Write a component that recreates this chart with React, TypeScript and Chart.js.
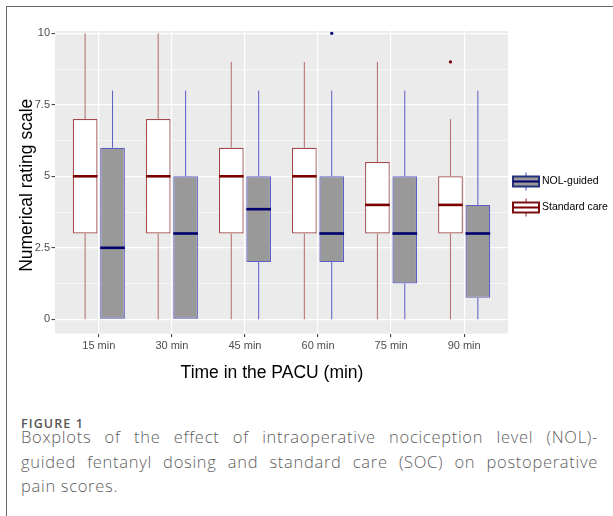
import React, { useEffect, useRef } from "react";
import { Chart, registerables } from "chart.js";

Chart.register(...registerables);

const timeLabels = ["15 min", "30 min", "45 min", "60 min", "75 min", "90 min"];
const xTickValues = [1, 2, 3, 4, 5, 6];
const yTickValues = [0, 1.25, 2.5, 3.75, 5, 6.25, 7.5, 8.75, 10];
const yMajorLabels = ["0", "2.5", "5", "7.5", "10"];

// Standard care (SOC)
const socMin = [0, 0, 0, 0, 0, 0];
const socQ1 = [3, 3, 3, 3, 3, 3];
const socMedian = [5, 5, 5, 5, 4, 4];
const socQ3 = [7, 7, 6, 6, 5.5, 5];
const socMax = [10, 10, 9, 9, 9, 7];
const socOutliers: number[][] = [[], [], [], [], [], [9]];

// NOL-guided
const nolMin = [0, 0, 0, 0, 0, 0];
const nolQ1 = [0, 0, 2, 2, 1.25, 0.75];
const nolMedian = [2.5, 3, 3.85, 3, 3, 3];
const nolQ3 = [6, 5, 5, 5, 5, 4];
const nolMax = [8, 8, 8, 8, 8, 8];
const nolOutliers: number[][] = [[], [], [], [10], [], []];

const seriesNames = ["Standard care", "NOL-guided"];

const captionLabel = "FIGURE 1";
const captionLines = [
  "Boxplots of the effect of intraoperative nociception level (NOL)-",
  "guided fentanyl dosing and standard care (SOC) on postoperative",
  "pain scores.",
];

const FONT = "'Liberation Sans', Arial, Helvetica, sans-serif";

const styles = [
  {
    fill: "#ffffff",
    border: "#a24848",
    whisker: "#b46a6a",
    median: "#7a0000",
  },
  {
    fill: "#999999",
    border: "#5e5ec6",
    whisker: "#5c5cc6",
    median: "#00006e",
  },
];

const stats = [
  { min: socMin, q1: socQ1, med: socMedian, q3: socQ3, max: socMax, out: socOutliers },
  { min: nolMin, q1: nolQ1, med: nolMedian, q3: nolQ3, max: nolMax, out: nolOutliers },
];

const boxPlugin = {
  id: "boxExtras",
  beforeDraw(chart: any) {
    const { ctx, chartArea } = chart;
    ctx.save();
    ctx.fillStyle = "#ebebeb";
    ctx.fillRect(chartArea.left, chartArea.top, chartArea.right - chartArea.left, chartArea.bottom - chartArea.top);
    ctx.restore();
  },
  afterDatasetsDraw(chart: any) {
    const { ctx } = chart;
    const ys = chart.scales.y;
    stats.forEach((s, di) => {
      const st = styles[di];
      const meta = chart.getDatasetMeta(di);
      meta.data.forEach((bar: any, i: number) => {
        const { x, width } = bar.getProps(["x", "width"], true);
        ctx.save();
        ctx.strokeStyle = st.whisker;
        ctx.lineWidth = 1;
        ctx.beginPath();
        if (s.max[i] > s.q3[i]) {
          ctx.moveTo(x, ys.getPixelForValue(s.q3[i]));
          ctx.lineTo(x, ys.getPixelForValue(s.max[i]));
        }
        if (s.min[i] < s.q1[i]) {
          ctx.moveTo(x, ys.getPixelForValue(s.q1[i]));
          ctx.lineTo(x, ys.getPixelForValue(s.min[i]));
        }
        ctx.stroke();
        ctx.strokeStyle = st.median;
        ctx.lineWidth = 2.6;
        ctx.beginPath();
        const my = ys.getPixelForValue(s.med[i]);
        ctx.moveTo(x - width / 2, my);
        ctx.lineTo(x + width / 2, my);
        ctx.stroke();
        ctx.fillStyle = st.median;
        s.out[i].forEach((v) => {
          ctx.beginPath();
          ctx.arc(x, ys.getPixelForValue(v), 1.6, 0, Math.PI * 2);
          ctx.fill();
        });
        ctx.restore();
      });
    });
  },
  afterDraw(chart: any) {
    const { ctx, chartArea } = chart;
    ctx.save();
    // axis titles
    ctx.fillStyle = "#000";
    ctx.font = `17.5px ${FONT}`;
    ctx.textAlign = "center";
    ctx.textBaseline = "middle";
    ctx.fillText("Time in the PACU (min)", (chartArea.left + chartArea.right) / 2 - 9.5, chartArea.bottom + 40);
    ctx.save();
    ctx.translate(27, (chartArea.top + chartArea.bottom) / 2 + 3);
    ctx.rotate(-Math.PI / 2);
    ctx.fillText("Numerical rating scale", 0, 0);
    ctx.restore();

    // legend: NOL-guided first, then Standard care
    const order = [1, 0];
    const gx = chartArea.right + 5;
    const gw = 26;
    order.forEach((di, k) => {
      const st = styles[di];
      const cy = 181.5 + k * 26;
      ctx.strokeStyle = st.border;
      ctx.lineWidth = 1.2;
      ctx.beginPath();
      ctx.moveTo(gx + gw / 2, cy - 9);
      ctx.lineTo(gx + gw / 2, cy + 9);
      ctx.stroke();
      ctx.fillStyle = st.fill;
      ctx.fillRect(gx, cy - 5, gw, 10);
      ctx.lineWidth = 2;
      ctx.strokeStyle = di === 1 ? "#26337a" : "#7a1010";
      ctx.strokeRect(gx, cy - 5, gw, 10);
      ctx.lineWidth = 2;
      ctx.strokeStyle = st.median;
      ctx.beginPath();
      ctx.moveTo(gx, cy);
      ctx.lineTo(gx + gw, cy);
      ctx.stroke();
      ctx.fillStyle = "#000";
      ctx.font = `10.5px ${FONT}`;
      ctx.textAlign = "left";
      ctx.textBaseline = "middle";
      ctx.fillText(seriesNames[di], gx + gw + 3, cy);
    });
    ctx.restore();
  },
};

export default function App() {
  const ref = useRef<HTMLCanvasElement | null>(null);
  useEffect(() => {
    if (!ref.current) return;
    const chart = new Chart(ref.current, {
      type: "bar",
      data: {
        datasets: [
          {
            label: seriesNames[0],
            data: socQ1.map((q1, i) => ({ x: xTickValues[i], y: [q1, socQ3[i]] })) as any,
            backgroundColor: styles[0].fill,
            borderColor: styles[0].border,
            borderWidth: 1.2,
            borderSkipped: false,
          },
          {
            label: seriesNames[1],
            data: nolQ1.map((q1, i) => ({ x: xTickValues[i], y: [q1, nolQ3[i]] })) as any,
            backgroundColor: styles[1].fill,
            borderColor: styles[1].border,
            borderWidth: 1.2,
            borderSkipped: false,
          },
        ],
      },
      options: {
        animation: false,
        responsive: false,
        maintainAspectRatio: false,
        events: [],
        categoryPercentage: 0.75,
        barPercentage: 0.9,
        layout: { padding: { top: 31, right: 105, bottom: 0, left: 0 } },
        plugins: {
          legend: { display: false },
          tooltip: { enabled: false },
          title: { display: false },
        },
        scales: {
          x: {
            type: "linear",
            min: 0.4,
            max: 6.6,
            offset: false,
            afterBuildTicks: (scale: any) => {
              scale.ticks = xTickValues.map((v) => ({ value: v }));
            },
            afterFit: (scale: any) => {
              scale.height = 66.4;
            },
            ticks: {
              autoSkip: false,
              maxRotation: 0,
              padding: 2,
              color: "#4d4d4d",
              font: { family: FONT, size: 11 },
              callback: (v: any) => timeLabels[xTickValues.indexOf(Number(v))] ?? "",
            },
            grid: {
              offset: false,
              color: "#ffffff",
              lineWidth: 1.2,
              drawTicks: true,
              tickLength: 3.5,
              tickColor: "#333333",
              tickWidth: 1,
            },
            border: { display: false },
          },
          y: {
            type: "linear",
            min: -0.5,
            max: 10.08,
            afterBuildTicks: (scale: any) => {
              scale.ticks = yTickValues.map((v) => ({ value: v }));
            },
            afterFit: (scale: any) => {
              scale.width = 55;
            },
            ticks: {
              autoSkip: false,
              padding: 1.5,
              color: "#4d4d4d",
              font: { family: FONT, size: 11 },
              callback: (v: any) => {
                const n = Number(v);
                const idx = [0, 2.5, 5, 7.5, 10].indexOf(n);
                return idx >= 0 ? yMajorLabels[idx] : "";
              },
            },
            grid: {
              color: "#ffffff",
              lineWidth: (c: any) => (c.tick && c.tick.value % 2.5 === 0 ? 1.2 : 0.6),
              drawTicks: true,
              tickLength: 3.5,
              tickColor: (c: any) => (c.tick && c.tick.value % 2.5 === 0 ? "#333333" : "rgba(0,0,0,0)"),
              tickWidth: 1,
            },
            border: { display: false },
          },
        },
      } as any,
      plugins: [boxPlugin],
    });
    return () => chart.destroy();
  }, []);

  return (
    <div style={{ position: "absolute", left: 0, top: 0, width: 613, height: 516, background: "#fff", overflow: "hidden" }}>
      <div
        style={{
          position: "absolute",
          left: 6,
          top: 6,
          width: 620,
          height: 520,
          borderTop: "1.5px solid #666",
          borderLeft: "1.5px solid #666",
        }}
      />
      <canvas ref={ref} width={613} height={400} style={{ position: "absolute", left: 0, top: 0, width: 613, height: 400 }} />
      <div
        style={{
          position: "absolute",
          left: 21,
          top: 416,
          fontFamily: "'Open Sans', sans-serif",
          fontWeight: 600,
          fontSize: 12.5,
          lineHeight: "16px",
          letterSpacing: 1.1,
          color: "#555555",
        }}
      >
        {captionLabel}
      </div>
      <div
        style={{
          position: "absolute",
          left: 21,
          top: 425,
          width: 577,
          fontFamily: "'Open Sans', sans-serif",
          fontWeight: 300,
          fontSize: 16.5,
          lineHeight: "24.5px",
          letterSpacing: 0.7,
          color: "#606060",
        }}
      >
        {captionLines.map((line, i) => (
          <div
            key={i}
            style={{
              textAlign: i < captionLines.length - 1 ? "justify" : "left",
              textAlignLast: i < captionLines.length - 1 ? "justify" : "left",
              whiteSpace: "normal",
            }}
          >
            {line}
          </div>
        ))}
      </div>
    </div>
  );
}
